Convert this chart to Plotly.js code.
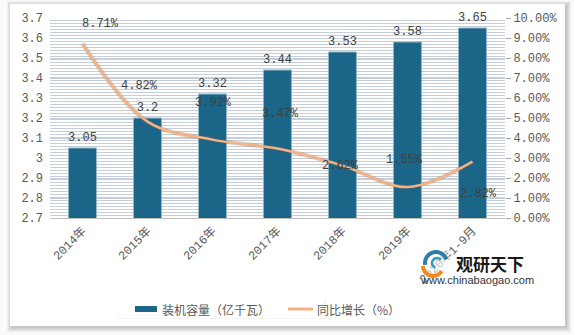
<!DOCTYPE html>
<html>
<head>
<meta charset="utf-8">
<script src="https://cdn.plot.ly/plotly-3.0.1.min.js"></script>
<style>html,body{margin:0;padding:0;background:#fafafa;}#chart{width:574px;height:335px;}</style>
</head>
<body>
<div id="chart"></div>
<script>
// ---- data ----
const categories = ['2014年', '2015年', '2016年', '2017年', '2018年', '2019年', '2020年1-9月'];
const capacity = [3.05, 3.2, 3.32, 3.44, 3.53, 3.58, 3.65];          // 装机容量（亿千瓦）
const growth = [8.71, 4.82, 3.92, 3.47, 2.62, 1.55, 2.82];           // 同比增长（%）
const capacityName = '装机容量（亿千瓦）';
const growthName = '同比增长（%）';

// ---- label placement (pixels offsets for growth labels) ----
const growthLabelShiftX = [18, -8, 1, 3, -2, -3, 6];
const growthLabelShiftY = [20, 36, 37, 35, 0, 27, -32];

// ---- layout geometry (pixels) ----
const L = 50, R = 505, T = 18, B = 218;
const px = p => (p - L) / (R - L);
const py = p => (B - p) / (B - T);

const monoFont = '"Liberation Mono", "Noto Sans CJK SC", monospace';
const cjkFont = '"Noto Sans CJK SC", sans-serif';
const barColor = '#1B6688';
const lineColor = '#F4B183';
const textGray = '#595959';

const bars = {
  type: 'bar', name: capacityName, x: categories, y: capacity,
  width: 0.43,
  marker: {color: barColor, line: {color: '#8fb3c6', width: 1}},
  text: capacity.map(v => String(v)), textposition: 'outside', constraintext: 'none',
  textfont: {family: monoFont, size: 12, color: '#404040'},
  cliponaxis: false, showlegend: false, hoverinfo: 'x+y'
};
const lineShadow = {
  type: 'scatter', mode: 'lines', x: categories, y: growth.map(v => v / 100), yaxis: 'y2',
  line: {color: 'rgba(120,90,60,0.25)', width: 4.5, shape: 'spline', smoothing: 1},
  showlegend: false, hoverinfo: 'skip'
};
const line = {
  type: 'scatter', mode: 'lines', name: growthName, x: categories, y: growth.map(v => v / 100), yaxis: 'y2',
  line: {color: lineColor, width: 2.5, shape: 'spline', smoothing: 1},
  showlegend: false
};

const annotations = growth.map((v, i) => ({
  x: categories[i], y: v / 100, xref: 'x', yref: 'y2',
  text: v.toFixed(2) + '%', showarrow: false,
  xshift: growthLabelShiftX[i], yshift: growthLabelShiftY[i],
  font: {family: monoFont, size: 12, color: '#404040'}
}));

// manual legend texts
annotations.push({xref: 'paper', yref: 'paper', x: px(160), y: py(309), xanchor: 'left', yanchor: 'middle',
  text: capacityName, showarrow: false, font: {family: cjkFont, size: 12, color: textGray}});
annotations.push({xref: 'paper', yref: 'paper', x: px(315), y: py(309), xanchor: 'left', yanchor: 'middle',
  text: growthName, showarrow: false, font: {family: cjkFont, size: 12, color: textGray}});
// watermark
annotations.push({xref: 'paper', yref: 'paper', x: px(454), y: py(263), xanchor: 'left', yanchor: 'middle',
  text: '<b>观研天下</b>', showarrow: false, font: {family: cjkFont, size: 17, color: '#1a1a1a'}});
annotations.push({xref: 'paper', yref: 'paper', x: px(418), y: py(280), xanchor: 'left', yanchor: 'middle',
  text: 'www.chinabaogao.com', showarrow: false, font: {family: '"Liberation Sans", Arial, sans-serif', size: 11, color: '#333333'}});

const rect = (x0, y0, x1, y1, fill, extra) => Object.assign({
  type: 'rect', xref: 'paper', yref: 'paper', x0: px(x0), x1: px(x1), y0: py(y1), y1: py(y0),
  fillcolor: fill, line: {width: 0}, layer: 'below'
}, extra || {});

const shapes = [];
// card shadow
for (let k = 5; k >= 1; k--) {
  shapes.push(rect(10 - k + 2, 4 - k + 2, 565 + k + 1, 326 + k + 1, 'rgba(0,0,0,0.045)'));
}
shapes.push(rect(10, 4, 565, 326, '#ffffff'));
// legend box
shapes.push(rect(116, 299, 326, 319, 'rgba(0,0,0,0.04)'));
shapes.push(rect(115, 298, 324, 318, '#ffffff'));
// legend swatches
shapes.push(rect(135, 306, 157, 312, barColor, {layer: 'above'}));
shapes.push({type: 'line', xref: 'paper', yref: 'paper', x0: px(288), x1: px(313), y0: py(309), y1: py(309),
  line: {color: lineColor, width: 3}, layer: 'above'});
// watermark logo (approximate swirl, semi-transparent white backing)
shapes.push({type: 'circle', xref: 'paper', yref: 'paper', x0: px(421), x1: px(451), y0: py(280), y1: py(249),
  fillcolor: 'rgba(255,255,255,0.6)', line: {width: 0}, layer: 'above'});
const pth = pts => pts.map((p, i) => (i ? 'L' : 'M') + px(p[0]) + ',' + py(p[1])).join(' ');
const arc = (cx, cy, r, a0, a1, n) => {
  const pts = [];
  for (let i = 0; i <= n; i++) { const a = (a0 + (a1 - a0) * i / n) * Math.PI / 180; pts.push([cx + r * Math.cos(a), cy - r * Math.sin(a)]); }
  return pts;
};
shapes.push({type: 'path', xref: 'paper', yref: 'paper', path: pth(arc(436, 263, 11, 20, 190, 20)), line: {color: '#2e7fa8', width: 4}, layer: 'above'});
shapes.push({type: 'path', xref: 'paper', yref: 'paper', path: pth(arc(433, 266, 10, 180, 330, 20)), line: {color: '#f08c1e', width: 4}, layer: 'above'});
shapes.push({type: 'path', xref: 'paper', yref: 'paper', path: pth(arc(437, 263, 5, 40, 250, 12)), line: {color: '#2aa0c8', width: 2.5}, layer: 'above'});

const layout = {
  width: 574, height: 335,
  margin: {l: L, r: 574 - R, t: T, b: 335 - B},
  paper_bgcolor: '#fafafa', plot_bgcolor: 'rgba(0,0,0,0)',
  showlegend: false, bargap: 0.57,
  xaxis: {
    type: 'category', tickangle: -45, showgrid: false, zeroline: false,
    showline: true, linecolor: '#bfbfbf', linewidth: 1, ticks: '',
    tickfont: {family: monoFont, size: 12, color: textGray}
  },
  yaxis: {
    range: [2.7, 3.7], dtick: 0.1, tick0: 2.7, showline: false, zeroline: false, ticks: '',
    ticklabelstandoff: 6,
    showgrid: true, gridcolor: '#c6cfd9', gridwidth: 1,
    minor: {dtick: 0.015, tick0: 2.7, showgrid: true, gridcolor: '#c6cfd9', gridwidth: 1},
    tickfont: {family: monoFont, size: 12, color: textGray}
  },
  yaxis2: {
    overlaying: 'y', side: 'right', range: [0, 0.10], dtick: 0.01, tickformat: '.2%',
    showgrid: false, zeroline: false, showline: false,
    ticks: 'outside', ticklen: 5, tickcolor: '#a6a6a6',
    tickfont: {family: monoFont, size: 12, color: textGray}
  },
  shapes: shapes,
  annotations: annotations
};

Plotly.newPlot('chart', [bars, lineShadow, line], layout, {staticPlot: true, displayModeBar: false});
</script>
</body>
</html>
